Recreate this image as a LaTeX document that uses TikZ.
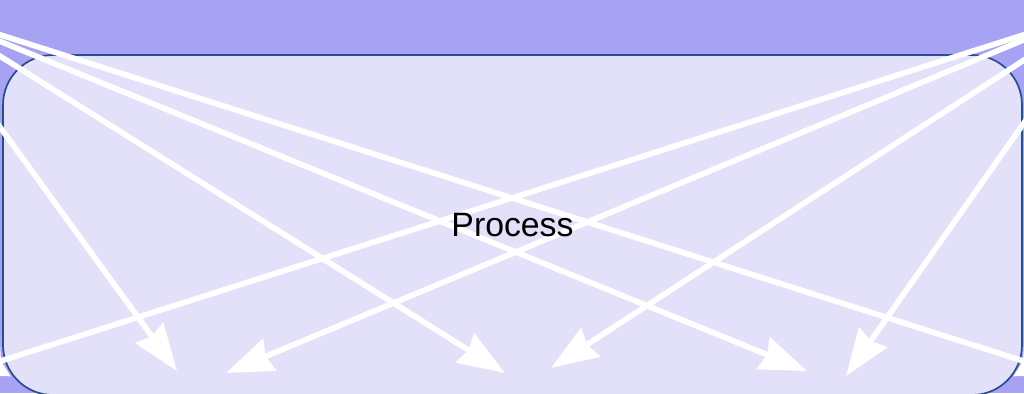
\documentclass[tikz,border=0pt]{standalone}
\usepackage{fontspec}
\setmainfont{Liberation Sans}
\usetikzlibrary{arrows.meta}
\definecolor{figsky}{RGB}{167,162,244}
\definecolor{figbox}{RGB}{227,225,249}
\definecolor{figrim}{RGB}{38,80,140}
\tikzset{
  procbox/.style ={draw=figrim,fill=figbox,line width=0.85pt,rounded corners=25pt,
                   minimum width=509.5pt,minimum height=170pt,inner sep=0pt},
  proclab/.style ={inner sep=0pt,font=\fontsize{16.9}{20}\selectfont,text=black},
  wline/.style   ={draw=white,line width=2.8pt},
  warr/.style    ={wline,-{Stealth[length=23.5pt,width=17pt,inset=2pt]}},
}

\begin{document}
\begin{tikzpicture}[x=0.5pt,y=-0.5pt]
  \useasboundingbox (0,0) rectangle (1024,393);
  \fill[figsky] (0,0) rectangle (1024,393);
  \clip (0,0) rectangle (1024,393);
  \node[procbox] (proc) at (512.5,225) {};
  % sources beyond the left edge, ends at the bottom
  \coordinate (sA) at (-40,72);
  \coordinate (sB) at (-40,31);
  \coordinate (sC) at (-40,25);
  \coordinate (sD) at (-40,22);
  \coordinate (tA) at (177,371);
  \coordinate (tB) at (505,373);
  \coordinate (tC) at (807,371);
  \coordinate (tD) at (1064,374);
  % sources beyond the right edge
  \coordinate (rA) at (1064,66);
  \coordinate (rB) at (1064,34);
  \coordinate (rC) at (1064,23);
  \coordinate (rD) at (1064,22);
  \coordinate (uA) at (846,376);
  \coordinate (uB) at (551,368);
  \coordinate (uC) at (226,373);
  \coordinate (uD) at (-40,374);
  \draw[warr] (sA) -- (tA);
  \draw[warr] (sB) -- (tB);
  \draw[warr] (sC) -- (tC);
  \draw[warr] (sD) -- (tD);
  \draw[warr] (rA) -- (uA);
  \draw[warr] (rB) -- (uB);
  \draw[warr] (rC) -- (uC);
  \draw[warr] (rD) -- (uD);
  \node[proclab] (plab) at (proc.center) {Process};
\end{tikzpicture}
\end{document}
